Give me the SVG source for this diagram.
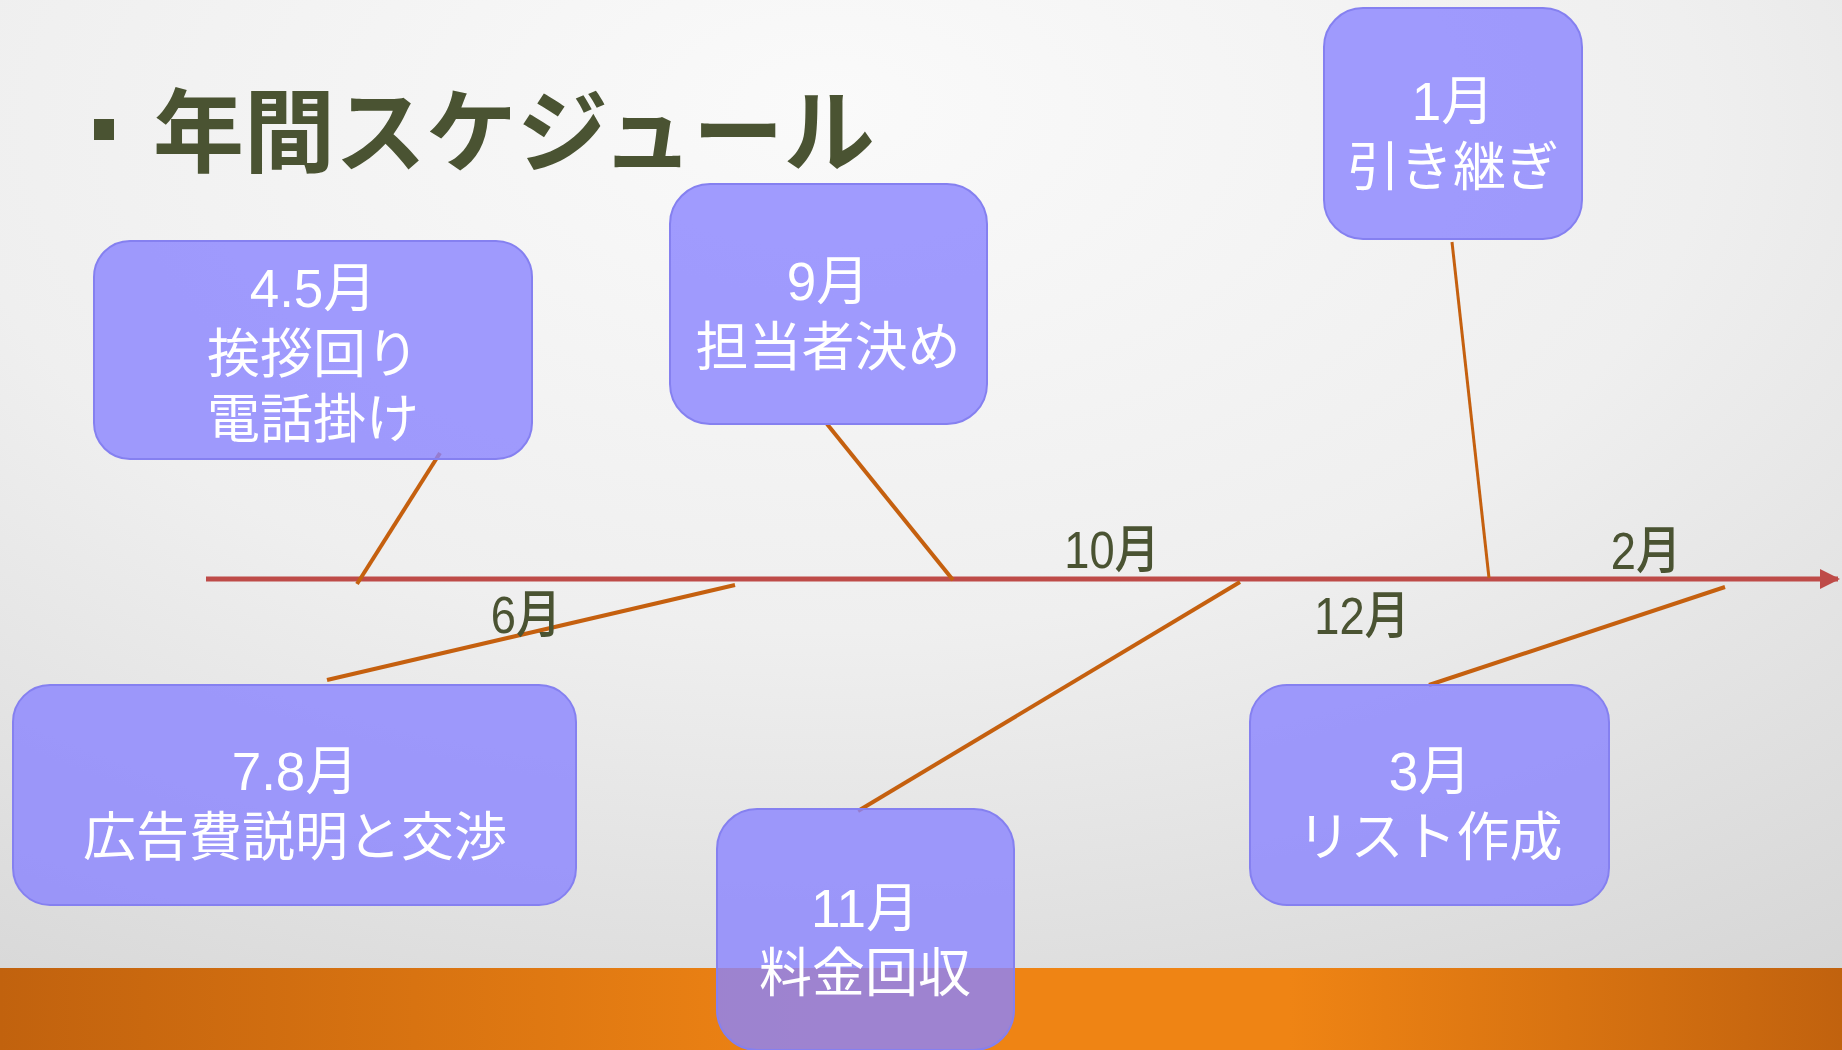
<svg xmlns="http://www.w3.org/2000/svg" width="1842" height="1050" viewBox="0 0 1842 1050">
<defs>
<radialGradient id="bg" cx="0.45" cy="0.15" r="0.95" fx="0.45" fy="0.1">
<stop offset="0" stop-color="#fafafa"/>
<stop offset="0.5" stop-color="#efefef"/>
<stop offset="1" stop-color="#d6d6d6"/>
</radialGradient>
<linearGradient id="band" x1="0" y1="0" x2="1" y2="0">
<stop offset="0" stop-color="#c1620e"/>
<stop offset="0.45" stop-color="#ef8414"/>
<stop offset="0.7" stop-color="#ef8414"/>
<stop offset="1" stop-color="#c1620e"/>
</linearGradient>
<marker id="arr" viewBox="0 0 10 10" refX="9" refY="5" markerWidth="4" markerHeight="4" orient="auto" markerUnits="strokeWidth">
<path d="M0,0 L10,5 L0,10 z" fill="#be4b48"/>
</marker>
</defs>
<style>
.box{fill:#8a83ff;fill-opacity:0.8;stroke:#8580f0;stroke-width:2}
.bt{font-family:"Liberation Sans","Noto Sans CJK JP",sans-serif;font-size:53px;fill:#ffffff;text-anchor:middle}
.ml{font-family:"Liberation Sans","Noto Sans CJK JP",sans-serif;font-size:52px;font-weight:500;fill:#4a5332;text-anchor:middle}
.con{stroke:#c5600f;stroke-width:4;fill:none}
</style>
<rect x="0" y="0" width="1842" height="1050" fill="url(#bg)"/>
<rect x="0" y="968" width="1842" height="82" fill="url(#band)"/>
<g id="title">
<rect x="94" y="119" width="20" height="21" fill="#4a5332"/>
<text x="153" y="165" font-family="'Noto Sans CJK JP',sans-serif" font-size="91" font-weight="bold" fill="#4a5332">年間スケジュール</text>
</g>
<g id="timeline">
<line x1="206" y1="579" x2="1838" y2="579" stroke="#be4b48" stroke-width="5" marker-end="url(#arr)"/>
</g>
<g id="connectors">
<line class="con" x1="440" y1="453" x2="357" y2="584"/>
<line class="con" x1="827" y1="424" x2="953" y2="580"/>
<line class="con" x1="1452" y1="242" x2="1489" y2="578" style="stroke-width:3"/>
<line class="con" x1="327" y1="680" x2="735" y2="585"/>
<line class="con" x1="858" y1="811" x2="1240" y2="582"/>
<line class="con" x1="1429" y1="685" x2="1725" y2="587"/>
</g>
<g id="labels">
<text class="ml" transform="translate(526,633) scale(0.87,1)">6月</text>
<text class="ml" transform="translate(1112,568) scale(0.87,1)">10月</text>
<text class="ml" transform="translate(1362,634) scale(0.87,1)">12月</text>
<text class="ml" transform="translate(1646,569) scale(0.87,1)">2月</text>
</g>
<g id="n45">
<rect class="box" x="94" y="241" width="438" height="218" rx="36"/>
<text class="bt" x="313" y="307">4.5月</text>
<text class="bt" x="313" y="373">挨拶回り</text>
<text class="bt" x="313" y="438">電話掛け</text>
</g>
<g id="n9">
<rect class="box" x="670" y="184" width="317" height="240" rx="40"/>
<text class="bt" x="828" y="300">9月</text>
<text class="bt" x="828" y="366">担当者決め</text>
</g>
<g id="n1">
<rect class="box" x="1324" y="8" width="258" height="231" rx="39"/>
<text class="bt" x="1453" y="120">1月</text>
<text class="bt" x="1453" y="186">引き継ぎ</text>
</g>
<g id="n78">
<rect class="box" x="13" y="685" width="563" height="220" rx="37"/>
<text class="bt" x="295" y="790">7.8月</text>
<text class="bt" x="295" y="856">広告費説明と交渉</text>
</g>
<g id="n11">
<rect class="box" x="717" y="809" width="297" height="241" rx="40"/>
<text class="bt" x="865" y="927">11月</text>
<text class="bt" x="865" y="992">料金回収</text>
</g>
<g id="n3">
<rect class="box" x="1250" y="685" width="359" height="220" rx="37"/>
<text class="bt" x="1430" y="790">3月</text>
<text class="bt" x="1430" y="856">リスト作成</text>
</g>
</svg>
